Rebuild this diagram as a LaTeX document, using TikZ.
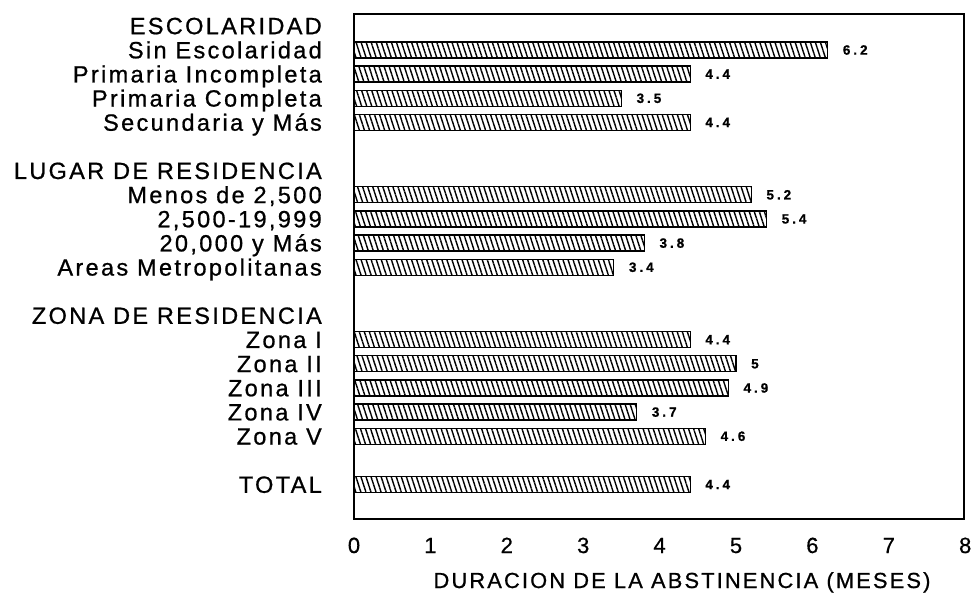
\documentclass[tikz,border=0pt]{standalone}
\usepackage{fontspec}
\setmainfont{Liberation Sans}
\newfontfamily\labfont[LetterSpace=10,FakeBold=0.8]{Liberation Sans}
\newfontfamily\valfont[LetterSpace=22,FakeBold=0.8]{Liberation Sans}
\newfontfamily\tickfont[FakeBold=0.6]{Liberation Sans}
\usetikzlibrary{patterns.meta}
\begin{document}
\begin{tikzpicture}[x=1pt,y=-1pt,
  lab/.style={font=\labfont\fontsize{23.5}{25}\selectfont, anchor=base east, inner sep=0pt},
  val/.style={font=\valfont\bfseries\fontsize{13.5}{14}\selectfont, anchor=west, inner sep=0pt},
  tick/.style={font=\tickfont\fontsize{22}{23}\selectfont, anchor=base, inner sep=0pt},
  axtitle/.style={font=\labfont\fontsize{21.8}{23}\selectfont, anchor=base, inner sep=0pt},
  bar/.style={draw=black, line width=1.3pt, pattern={Lines[angle=-72,distance=4.8pt,line width=1.4pt]}},
  frame/.style={draw=black, line width=1.5pt}]
\useasboundingbox (0,0) rectangle (976,593);
\fill[white] (0,0) rectangle (976,593);
% frame
\draw[frame] (354,14) rectangle (964,519);
% group headers
\foreach \id/\r/\t in {esc/1/ESCOLARIDAD, lug/7/{LUGAR DE RESIDENCIA}, zon/13/{ZONA DE RESIDENCIA}}{
  \pgfmathsetmacro\cy{50+(\r-2)*24.14}
  \node[lab] (h-\id) at (322,\cy+8.3) {\t};
}
% bars
\foreach \id/\r/\v/\t in {
  sin/2/6.2/{Sin Escolaridad},
  pin/3/4.4/{Primaria Incompleta},
  pco/4/3.5/{Primaria Completa},
  sec/5/4.4/{Secundaria y Más},
  men/8/5.2/{Menos de 2,500},
  dos/9/5.4/{2,500-19,999},
  vei/10/3.8/{20,000 y Más},
  are/11/3.4/{Areas Metropolitanas},
  zi/14/4.4/{Zona I},
  zii/15/5/{Zona II},
  ziii/16/4.9/{Zona III},
  ziv/17/3.7/{Zona IV},
  zv/18/4.6/{Zona V},
  tot/20/4.4/{TOTAL}}{
  \pgfmathsetmacro\cy{50+(\r-2)*24.14}
  \pgfmathsetmacro\bx{354+\v*76.4}
  \node[lab] (l-\id) at (322,\cy+8.3) {\t};
  \draw[bar] (354,\cy-8) rectangle (\bx,\cy+8);
  \node[val] (v-\id) at (\bx+15,\cy) {\v};
}
% ticks
\foreach \k in {0,...,8}{
  \node[tick] (t\k) at (354+\k*76.4,553) {\k};
}
\node[axtitle] (title) at (682,588) {DURACION DE LA ABSTINENCIA (MESES)};
\end{tikzpicture}
\end{document}
